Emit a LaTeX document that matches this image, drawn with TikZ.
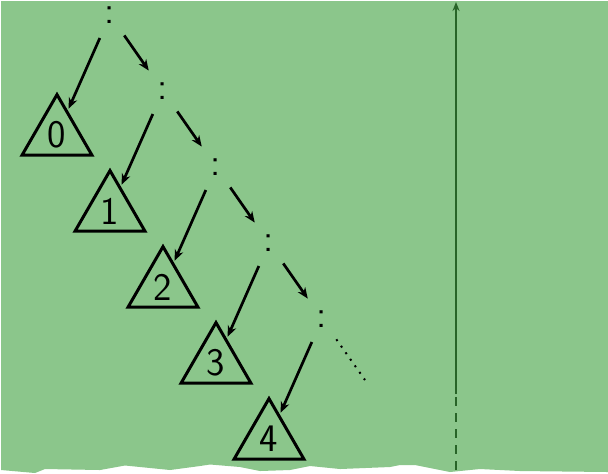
\documentclass[tikz,border=0pt]{standalone}
\usepackage{fontspec}
\usepackage{tikz}
\usepackage{xcolor}
\usetikzlibrary{arrows.meta,shapes.geometric}
\definecolor{bggreen}{RGB}{139,198,139}
\definecolor{axgreen}{RGB}{40,100,40}

\begin{document}
\begin{tikzpicture}[x=0.5pt,y=-0.5pt,>=Stealth,
  font=\fontsize{19.5}{23}\selectfont\sffamily,
  colon/.style={inner sep=0pt,outer sep=0pt},
  tri/.style={draw,regular polygon,regular polygon sides=3,minimum size=40.4pt,
    inner sep=0pt,outer sep=1.5pt,line width=1.5pt},
  arr/.style={->,line width=1.35pt,>={Stealth[length=5.5pt,width=4.5pt]}},
  dots/.style={line width=1pt,dash pattern=on 1pt off 3pt}]
  \useasboundingbox (0,0) rectangle (608,473);
  % green sheet with torn lower edge
  \fill[bggreen] (1,1) -- (608,1) -- (608,472) -- (520,471) -- (480,469) -- (450,472)
    -- (415,465) -- (400,465) -- (390,467) -- (340,469) -- (310,466) -- (290,470)
    -- (260,471) -- (240,467) -- (210,464.5) -- (200,466) -- (170,470) -- (125,465.5)
    -- (100,470) -- (45,469) -- (35,473) -- (1,470) -- cycle;
  % spine of colons and subtrees
  \foreach \i in {0,...,4} {
    \node[colon] (c\i) at (110+53*\i,15+76*\i) {:};
    \node[tri] (t\i) at (57+53*\i,135+76*\i) {\i};
  }
  \coordinate (c5) at (365,380);
  \foreach \i in {0,...,4}
    \draw[arr,shorten <=8pt] (c\i) -- (t\i);
  \foreach \i/\j in {0/1,1/2,2/3,3/4}
    \draw[arr,shorten <=8pt,shorten >=8pt] (c\i) -- (c\j);
  \draw[dots,shorten <=8pt] (c4) -- (c5);
  % time axis
  \coordinate (axtop) at (456,2);
  \coordinate (axmid) at (456,394);
  \coordinate (axbot) at (456,472);
  \draw[axgreen,line width=0.8pt,->,>={Stealth[length=4.5pt,width=3.5pt]}] (axmid) -- (axtop);
  \draw[axgreen,line width=0.8pt,dash pattern=on 4.5pt off 3.5pt,dash phase=-1.5pt] (axmid) -- (axbot);
\end{tikzpicture}
\end{document}
